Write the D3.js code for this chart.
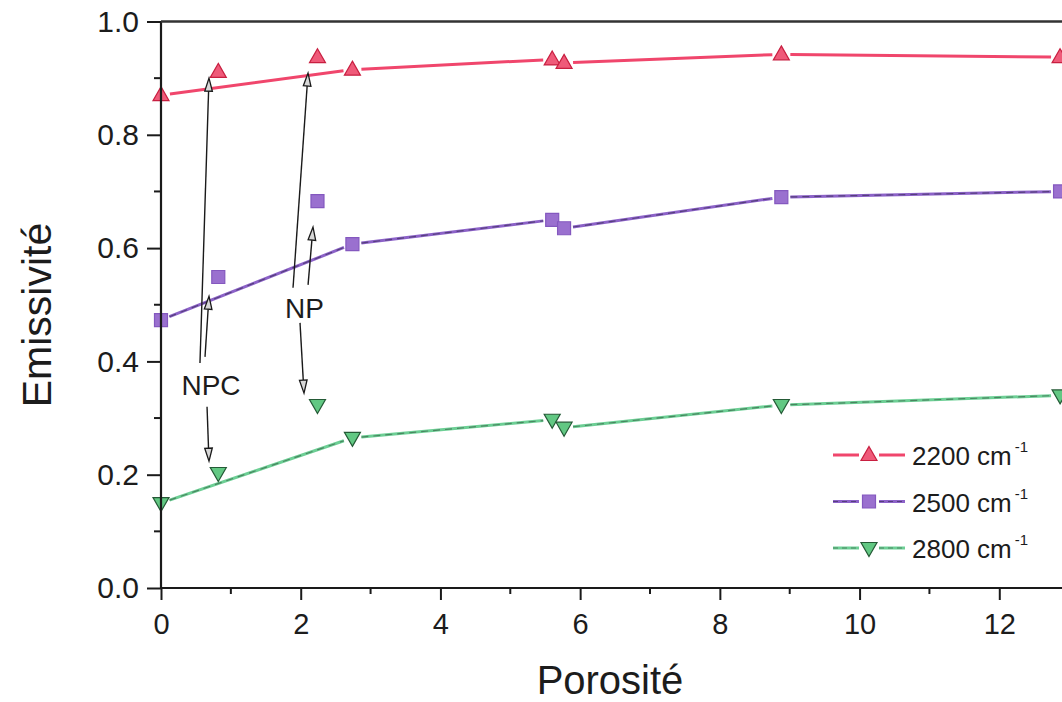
<!DOCTYPE html>
<html>
<head>
<meta charset="utf-8">
<script src="https://cdn.jsdelivr.net/npm/d3@7"></script>
<style>
  body { margin: 0; background: #ffffff; }
  svg { display: block; }
  text { font-family: "Liberation Sans", Arial, Helvetica, sans-serif; fill: #1c1c1c; }
</style>
</head>
<body>
<svg id="chart" width="1062" height="702"></svg>
<script>
// Porous series: porosity (%) and emissivity at three wavenumbers
const porosity = [0, 2.74, 5.6, 5.77, 8.88, 12.87];
const emiss2200 = [0.870, 0.915, 0.933, 0.927, 0.942, 0.937];
const emiss2500 = [0.473, 0.607, 0.650, 0.635, 0.690, 0.700];
const emiss2800 = [0.150, 0.265, 0.297, 0.283, 0.323, 0.340];

// Separate samples shown as isolated markers
const sampleNames = ["NPC", "NP"];
const samplePorosity = [0.82, 2.24];
const sample2200 = [0.911, 0.937];
const sample2500 = [0.549, 0.683];
const sample2800 = [0.203, 0.323];

// Legend labels
const seriesLabels = ["2200 cm", "2500 cm", "2800 cm"];

// Axis ticks
const xMajorTicks = [0, 2, 4, 6, 8, 10, 12];
const xMinorTicks = [1, 3, 5, 7, 9, 11, 13];
const yMajorTicks = [0, 0.2, 0.4, 0.6, 0.8, 1.0];
const yMinorTicks = [0.1, 0.3, 0.5, 0.7, 0.9];

// Annotation labels and arrows, in data coordinates
const noteLabels = [
  { text: sampleNames[0], x: 0.716, y: 0.341 },
  { text: sampleNames[1], x: 2.055, y: 0.477 }
];
const noteArrows = [
  { x0: 0.558, y0: 0.397, x1: 0.687, y1: 0.900 },
  { x0: 0.630, y0: 0.408, x1: 0.687, y1: 0.515 },
  { x0: 0.659, y0: 0.320, x1: 0.687, y1: 0.224 },
  { x0: 1.890, y0: 0.530, x1: 2.105, y1: 0.909 },
  { x0: 2.105, y0: 0.535, x1: 2.176, y1: 0.637 },
  { x0: 1.990, y0: 0.468, x1: 2.047, y1: 0.344 }
];

const svg = d3.select("#chart");
const x = d3.scaleLinear().domain([0, 14]).range([161, 1139]);
const y = d3.scaleLinear().domain([0, 1]).range([588, 21.5]);

const series = [
  { label: seriesLabels[0], values: emiss2200, samples: sample2200,
    line: "#f0466c", fill: "#ef5a79", stroke: "#c81f40", shape: "up", overlay: null },
  { label: seriesLabels[1], values: emiss2500, samples: sample2500,
    line: "#8c62c8", fill: "#9a70cf", stroke: "#8458bf", shape: "square", overlay: "#2a2340" },
  { label: seriesLabels[2], values: emiss2800, samples: sample2800,
    line: "#6dcf95", fill: "#62c883", stroke: "#245a36", shape: "down", overlay: "#2c4a35" }
];

function markerPath(shape) {
  if (shape === "up") return "M0,-8.5L8,5.5L-8,5.5Z";
  if (shape === "down") return "M0,8.5L8,-5.5L-8,-5.5Z";
  return "M-6.5,-6.5H6.5V6.5H-6.5Z";
}

// Line segments between points, leaving a small gap around each marker
function gappedPath(pts, gap) {
  let d = "";
  for (let i = 0; i < pts.length - 1; i++) {
    const [ax, ay] = pts[i], [bx, by] = pts[i + 1];
    const L = Math.hypot(bx - ax, by - ay);
    if (L <= 2 * gap + 2) continue;
    const ux = (bx - ax) / L, uy = (by - ay) / L;
    d += `M${ax + ux * gap},${ay + uy * gap}L${bx - ux * gap},${by - uy * gap}`;
  }
  return d;
}

// Series lines
series.forEach(s => {
  const pts = porosity.map((p, i) => [x(p), y(s.values[i])]);
  const d = gappedPath(pts, 9);
  svg.append("path").attr("d", d).attr("fill", "none")
    .attr("stroke", s.line).attr("stroke-width", 3);
  if (s.overlay) {
    svg.append("path").attr("d", d).attr("fill", "none")
      .attr("stroke", s.overlay).attr("stroke-width", 1.2)
      .attr("stroke-opacity", 0.55).attr("stroke-dasharray", "7,5");
  }
});

// Markers on the lines and isolated sample markers
series.forEach(s => {
  const all = porosity.map((p, i) => ({ px: p, v: s.values[i] }))
    .concat(samplePorosity.map((p, i) => ({ px: p, v: s.samples[i] })));
  svg.append("g").selectAll("path").data(all).join("path")
    .attr("d", markerPath(s.shape))
    .attr("transform", d => `translate(${x(d.px)},${y(d.v)})`)
    .attr("fill", s.fill).attr("stroke", s.stroke).attr("stroke-width", 1.2);
});

// Axes
const axisColor = "#1a1a1a";
const gx = svg.append("g").attr("transform", "translate(0,588)")
  .call(d3.axisBottom(x).tickValues(xMajorTicks).tickSize(12).tickSizeOuter(0)
    .tickPadding(13).tickFormat(d3.format("d")));
gx.select(".domain").remove();
gx.selectAll(".tick line").attr("stroke", axisColor).attr("stroke-width", 2);
gx.selectAll(".tick text").attr("font-size", 29).attr("fill", "#1c1c1c")
  .attr("font-family", "Liberation Sans, Arial, sans-serif");
svg.append("g").attr("transform", "translate(0,588)").selectAll("line")
  .data(xMinorTicks).join("line")
  .attr("x1", d => x(d)).attr("x2", d => x(d)).attr("y1", 0).attr("y2", 6)
  .attr("stroke", axisColor).attr("stroke-width", 2);

const gy = svg.append("g").attr("transform", "translate(161,0)")
  .call(d3.axisLeft(y).tickValues(yMajorTicks).tickSize(14).tickSizeOuter(0)
    .tickPadding(8).tickFormat(d3.format(".1f")));
gy.select(".domain").remove();
gy.selectAll(".tick line").attr("stroke", axisColor).attr("stroke-width", 2);
gy.selectAll(".tick text").attr("font-size", 30).attr("fill", "#1c1c1c")
  .attr("font-family", "Liberation Sans, Arial, sans-serif");
svg.append("g").attr("transform", "translate(161,0)").selectAll("line")
  .data(yMinorTicks).join("line")
  .attr("x1", 0).attr("x2", -7).attr("y1", d => y(d)).attr("y2", d => y(d))
  .attr("stroke", axisColor).attr("stroke-width", 2);

// Frame lines: left, bottom, top
svg.append("line").attr("x1", x(0)).attr("x2", x(0)).attr("y1", y(1)).attr("y2", y(0))
  .attr("stroke", axisColor).attr("stroke-width", 2.2);
svg.append("line").attr("x1", x(0)).attr("x2", x(14)).attr("y1", y(0)).attr("y2", y(0))
  .attr("stroke", axisColor).attr("stroke-width", 2.2);
svg.append("line").attr("x1", x(0)).attr("x2", x(14)).attr("y1", y(1)).attr("y2", y(1))
  .attr("stroke", "#333333").attr("stroke-width", 2.4);

// Axis titles
svg.append("text").attr("x", 610).attr("y", 694).attr("text-anchor", "middle")
  .attr("font-size", 40).text("Porosité");
svg.append("text").attr("transform", "translate(51,315) rotate(-90)")
  .attr("text-anchor", "middle").attr("font-size", 41).text("Emissivité");

// Annotation arrows with open heads
const arrowG = svg.append("g");
noteArrows.forEach(a => {
  const x0 = x(a.x0), y0 = y(a.y0), x1 = x(a.x1), y1 = y(a.y1);
  const L = Math.hypot(x1 - x0, y1 - y0);
  const ux = (x1 - x0) / L, uy = (y1 - y0) / L;
  const headLen = 13, headW = 3.8;
  const bx = x1 - ux * headLen, by = y1 - uy * headLen;
  arrowG.append("line").attr("x1", x0).attr("y1", y0).attr("x2", bx).attr("y2", by)
    .attr("stroke", "#1a1a1a").attr("stroke-width", 1.4);
  const px = -uy, py = ux;
  arrowG.append("path")
    .attr("d", `M${x1},${y1}L${bx + px * headW},${by + py * headW}L${bx - px * headW},${by - py * headW}Z`)
    .attr("fill", "#d8d8d8").attr("stroke", "#1a1a1a").attr("stroke-width", 1.3)
    .attr("stroke-linejoin", "miter");
});
svg.append("g").selectAll("text").data(noteLabels).join("text")
  .attr("x", d => x(d.x)).attr("y", d => y(d.y)).attr("text-anchor", "middle")
  .attr("font-size", 28).text(d => d.text);

// Legend
const legend = svg.append("g");
series.forEach((s, i) => {
  const cy = 455 + i * 46.5;
  const row = legend.append("g").attr("transform", `translate(0,${cy})`);
  const segs = `M833,0L859,0M879,0L905,0`;
  row.append("path").attr("d", segs).attr("stroke", s.line).attr("stroke-width", 3);
  if (s.overlay) {
    row.append("path").attr("d", segs).attr("stroke", s.overlay).attr("stroke-width", 1.2)
      .attr("stroke-opacity", 0.55).attr("stroke-dasharray", "5,4");
  }
  row.append("path").attr("d", markerPath(s.shape)).attr("transform", "translate(869,0)")
    .attr("fill", s.fill).attr("stroke", s.stroke).attr("stroke-width", 1.2);
  const t = row.append("text").attr("x", 912).attr("y", 10).attr("font-size", 26);
  t.append("tspan").text(s.label);
  t.append("tspan").attr("font-size", 15).attr("dx", 3).attr("dy", -13).text("-1");
});
</script>
</body>
</html>
